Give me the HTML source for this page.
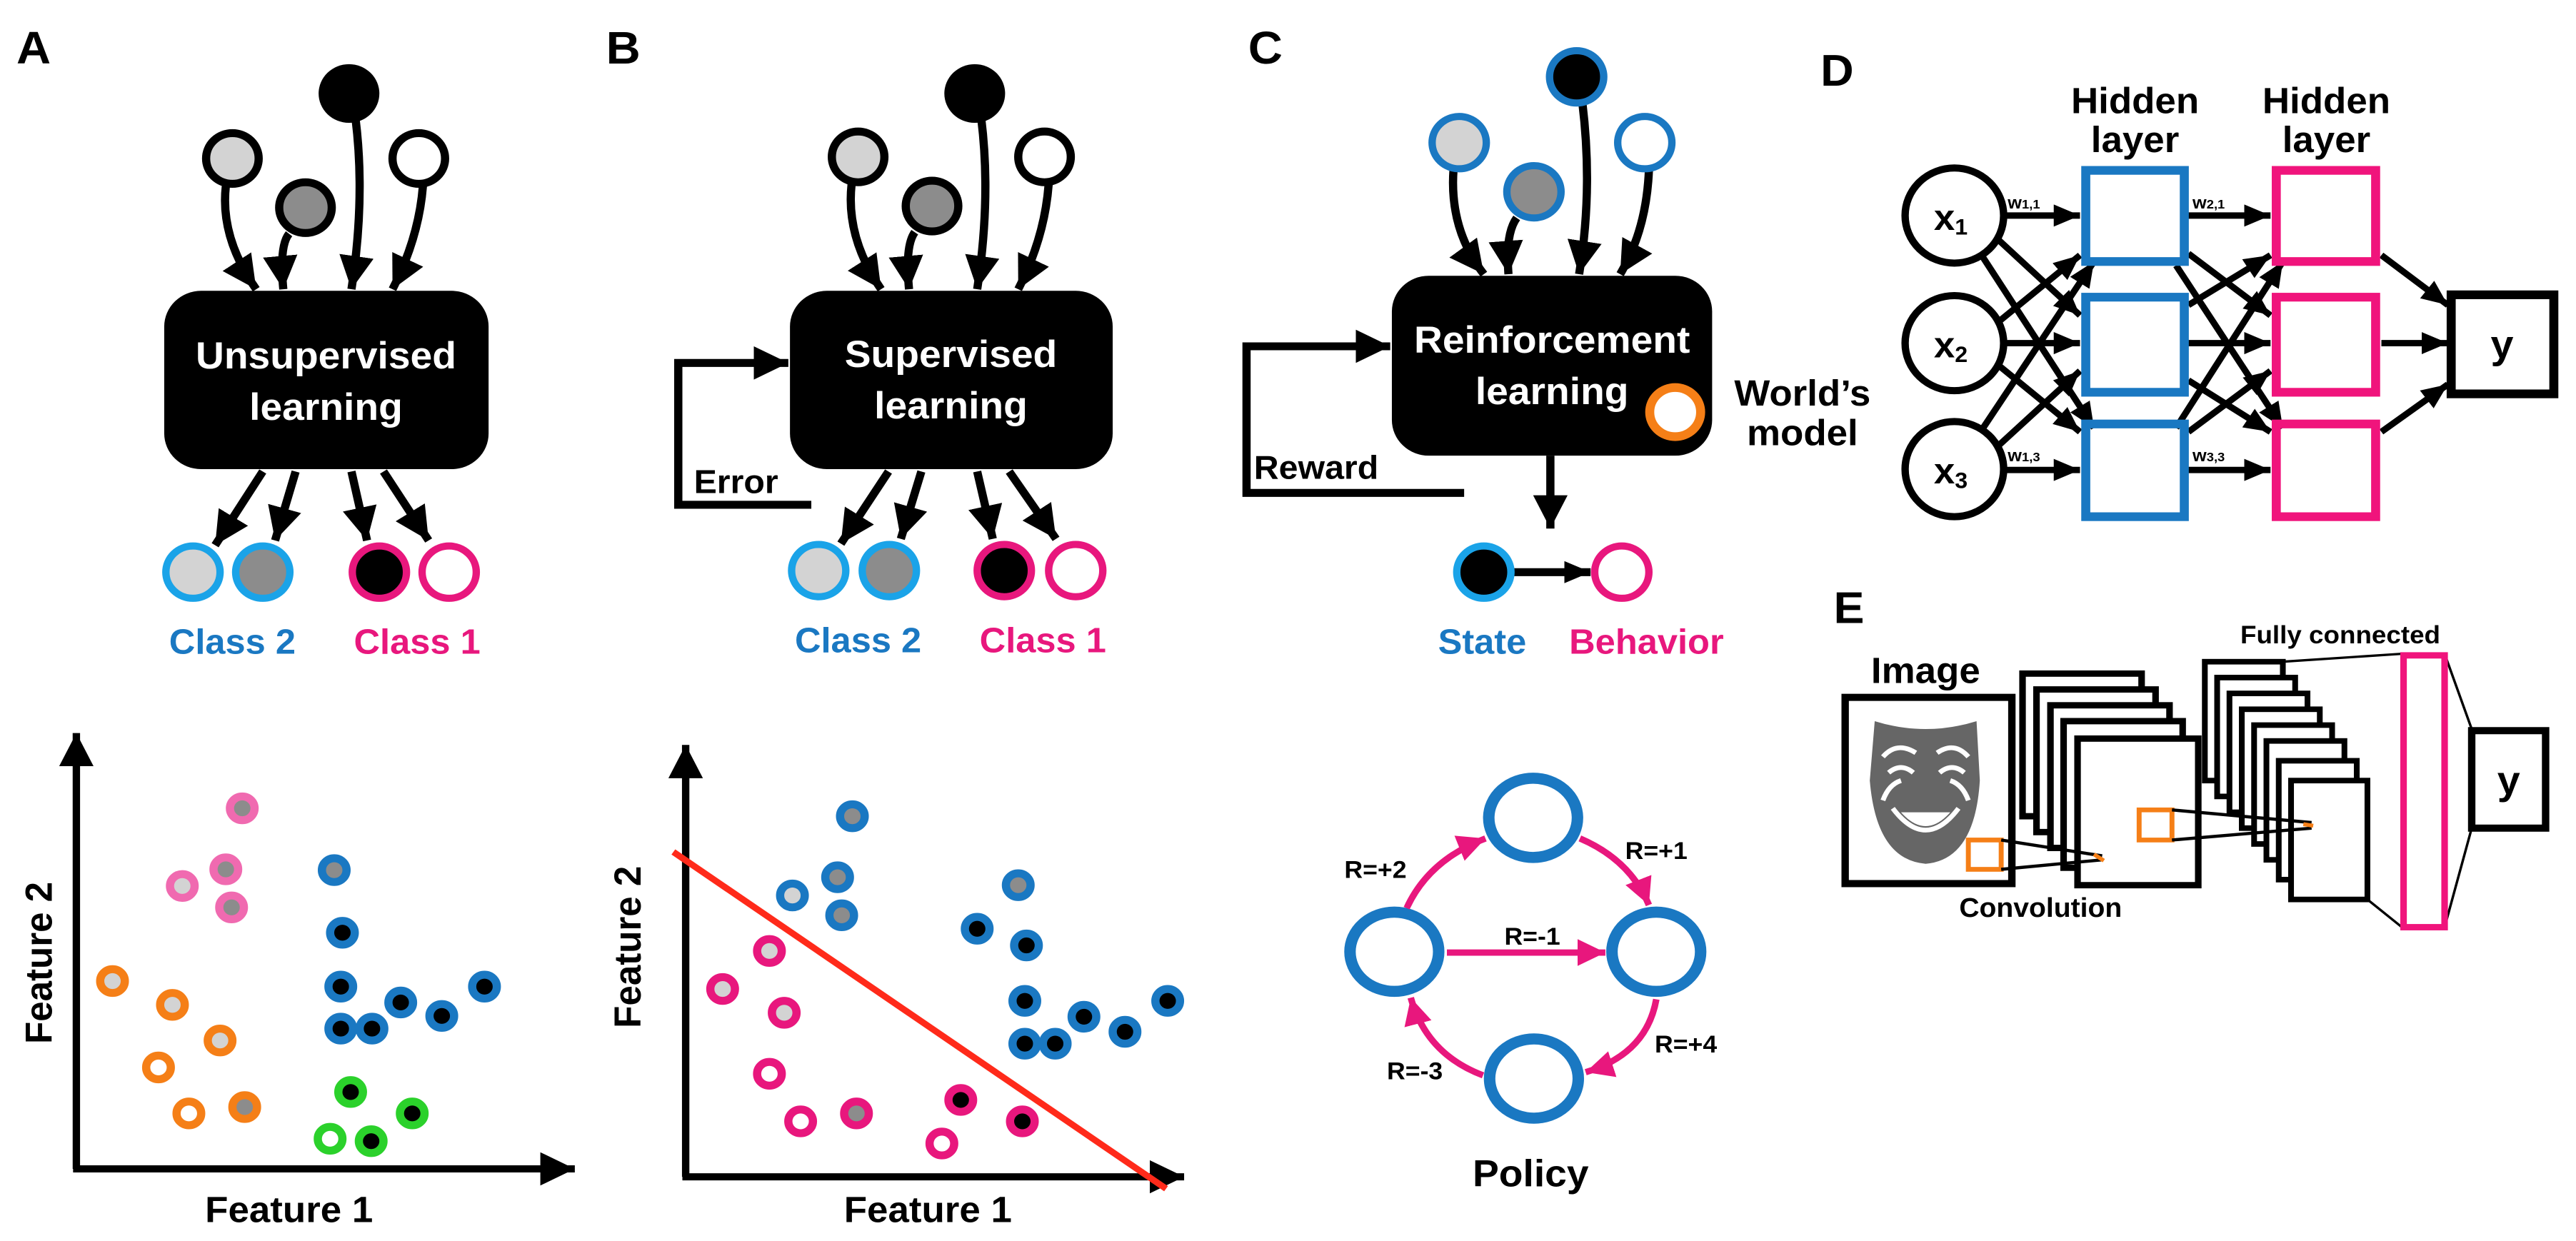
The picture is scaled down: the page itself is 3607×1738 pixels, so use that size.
<!DOCTYPE html>
<html><head><meta charset="utf-8"><style>
html,body{margin:0;padding:0;background:#fff;}
svg{display:block;}
text{font-family:"Liberation Sans",Arial,sans-serif;font-weight:bold;}
</style></head><body>
<svg width="3607" height="1738" viewBox="0 0 3137 1566" preserveAspectRatio="none" xmlns="http://www.w3.org/2000/svg">
<defs>
<marker id="ab" markerUnits="userSpaceOnUse" markerWidth="44" markerHeight="44" refX="42" refY="21" orient="auto"><path d="M0,0 L42,21 L0,42 z" fill="#000"/></marker>
<marker id="as" markerUnits="userSpaceOnUse" markerWidth="34" markerHeight="30" refX="32" refY="14" orient="auto"><path d="M0,0 L32,14 L0,28 z" fill="#000"/></marker>
<marker id="ap" markerUnits="userSpaceOnUse" markerWidth="36" markerHeight="36" refX="34" refY="17" orient="auto"><path d="M0,0 L34,17 L0,34 z" fill="#e8177d"/></marker>
</defs>

<!-- Panel A -->
<text x="20" y="80" font-size="58">A</text>
<g stroke="#000" stroke-width="10" fill="none">
<path d="M275,235 Q268,300 312,365" marker-end="url(#ab)"/>
<path d="M352,295 Q340,310 345,365" marker-end="url(#ab)"/>
<path d="M433,150 Q445,250 428,365" marker-end="url(#ab)"/>
<path d="M515,235 Q510,300 478,365" marker-end="url(#ab)"/>
</g>
<circle cx="425" cy="118" r="37" fill="#000"/>
<circle cx="283" cy="200" r="32" fill="#d3d3d3" stroke="#000" stroke-width="10"/>
<circle cx="372" cy="262" r="32" fill="#8c8c8c" stroke="#000" stroke-width="10"/>
<circle cx="510" cy="200" r="32" fill="#fff" stroke="#000" stroke-width="10"/>
<rect x="200" y="367" width="395" height="225" rx="45" fill="#000"/>
<text x="397" y="465" font-size="48" fill="#fff" text-anchor="middle">Unsupervised</text>
<text x="397" y="530" font-size="48" fill="#fff" text-anchor="middle">learning</text>
<g stroke="#000" stroke-width="10">
<line x1="320" y1="595" x2="262" y2="688" marker-end="url(#ab)"/>
<line x1="360" y1="595" x2="335" y2="682" marker-end="url(#ab)"/>
<line x1="428" y1="595" x2="447" y2="682" marker-end="url(#ab)"/>
<line x1="467" y1="595" x2="522" y2="682" marker-end="url(#ab)"/>
</g>
<g stroke-width="9">
<circle cx="235" cy="722" r="33" fill="#d3d3d3" stroke="#1aa3e8"/>
<circle cx="320" cy="722" r="33" fill="#8c8c8c" stroke="#1aa3e8"/>
<circle cx="462" cy="722" r="33" fill="#000" stroke="#e8177d"/>
<circle cx="547" cy="722" r="33" fill="#fff" stroke="#e8177d"/>
</g>
<text x="283" y="825" font-size="44" fill="#1a78c2" text-anchor="middle">Class 2</text>
<text x="508" y="825" font-size="44" fill="#e8177d" text-anchor="middle">Class 1</text>
<!-- plot A -->
<g stroke="#000" stroke-width="9" fill="none">
<line x1="93" y1="1475" x2="93" y2="925" marker-end="url(#ab)"/>
<line x1="89" y1="1475" x2="700" y2="1475" marker-end="url(#ab)"/>
</g>
<text transform="translate(63,1215) rotate(-90)" font-size="46" text-anchor="middle">Feature 2</text>
<text x="352" y="1542" font-size="46" text-anchor="middle">Feature 1</text>
<g stroke-width="10">
<g stroke="#f06ab0"><circle cx="295" cy="1020" r="15" fill="#8c8c8c"/><circle cx="275" cy="1097" r="15" fill="#8c8c8c"/><circle cx="222" cy="1118" r="15" fill="#d3d3d3"/><circle cx="282" cy="1145" r="15" fill="#8c8c8c"/></g>
<g stroke="#1a78c2"><circle cx="407" cy="1098" r="15" fill="#8c8c8c"/><circle cx="417" cy="1177" r="15" fill="#000"/><circle cx="415" cy="1245" r="15" fill="#000"/><circle cx="415" cy="1298" r="15" fill="#000"/><circle cx="453" cy="1298" r="15" fill="#000"/><circle cx="488" cy="1265" r="15" fill="#000"/><circle cx="538" cy="1282" r="15" fill="#000"/><circle cx="590" cy="1245" r="15" fill="#000"/></g>
<g stroke="#f57f17"><circle cx="137" cy="1238" r="15" fill="#d3d3d3"/><circle cx="210" cy="1268" r="15" fill="#d3d3d3"/><circle cx="268" cy="1313" r="15" fill="#d3d3d3"/><circle cx="193" cy="1347" r="15" fill="#fff"/><circle cx="230" cy="1405" r="15" fill="#fff"/><circle cx="298" cy="1397" r="15" fill="#8c8c8c"/></g>
<g stroke="#2bd12b"><circle cx="427" cy="1378" r="15" fill="#000"/><circle cx="502" cy="1405" r="15" fill="#000"/><circle cx="402" cy="1437" r="15" fill="#fff"/><circle cx="452" cy="1440" r="15" fill="#000"/></g>
</g>

<!-- Panel B -->
<text x="738" y="80" font-size="58">B</text>
<g stroke="#000" stroke-width="10" fill="none">
<path d="M1037,233 Q1030,300 1073,365" marker-end="url(#ab)"/>
<path d="M1114,293 Q1102,310 1107,365" marker-end="url(#ab)"/>
<path d="M1195,150 Q1207,250 1190,365" marker-end="url(#ab)"/>
<path d="M1277,233 Q1272,300 1240,365" marker-end="url(#ab)"/>
</g>
<circle cx="1187" cy="118" r="37" fill="#000"/>
<circle cx="1045" cy="198" r="32" fill="#d3d3d3" stroke="#000" stroke-width="10"/>
<circle cx="1135" cy="260" r="32" fill="#8c8c8c" stroke="#000" stroke-width="10"/>
<circle cx="1272" cy="198" r="32" fill="#fff" stroke="#000" stroke-width="10"/>
<rect x="962" y="367" width="393" height="225" rx="45" fill="#000"/>
<text x="1158" y="463" font-size="48" fill="#fff" text-anchor="middle">Supervised</text>
<text x="1158" y="528" font-size="48" fill="#fff" text-anchor="middle">learning</text>
<path d="M988,637 L826,637 L826,458 L960,458" stroke="#000" stroke-width="10" fill="none" marker-end="url(#ab)"/>
<text x="845" y="622" font-size="42">Error</text>
<g stroke="#000" stroke-width="10">
<line x1="1082" y1="595" x2="1024" y2="686" marker-end="url(#ab)"/>
<line x1="1122" y1="595" x2="1097" y2="680" marker-end="url(#ab)"/>
<line x1="1190" y1="595" x2="1209" y2="680" marker-end="url(#ab)"/>
<line x1="1229" y1="595" x2="1286" y2="680" marker-end="url(#ab)"/>
</g>
<g stroke-width="9">
<circle cx="997" cy="720" r="33" fill="#d3d3d3" stroke="#1aa3e8"/>
<circle cx="1083" cy="720" r="33" fill="#8c8c8c" stroke="#1aa3e8"/>
<circle cx="1223" cy="720" r="33" fill="#000" stroke="#e8177d"/>
<circle cx="1310" cy="720" r="33" fill="#fff" stroke="#e8177d"/>
</g>
<text x="1045" y="823" font-size="44" fill="#1a78c2" text-anchor="middle">Class 2</text>
<text x="1270" y="823" font-size="44" fill="#e8177d" text-anchor="middle">Class 1</text>
<g stroke="#000" stroke-width="9" fill="none">
<line x1="835" y1="1485" x2="835" y2="940" marker-end="url(#ab)"/>
<line x1="831" y1="1485" x2="1442" y2="1485" marker-end="url(#ab)"/>
</g>
<text transform="translate(780,1195) rotate(-90)" font-size="46" text-anchor="middle">Feature 2</text>
<text x="1130" y="1542" font-size="46" text-anchor="middle">Feature 1</text>
<g stroke-width="10">
<g stroke="#1a78c2"><circle cx="1038" cy="1030" r="15" fill="#8c8c8c"/><circle cx="1020" cy="1107" r="15" fill="#8c8c8c"/><circle cx="965" cy="1130" r="15" fill="#d3d3d3"/><circle cx="1025" cy="1155" r="15" fill="#8c8c8c"/><circle cx="1240" cy="1117" r="15" fill="#8c8c8c"/><circle cx="1190" cy="1172" r="15" fill="#000"/><circle cx="1250" cy="1193" r="15" fill="#000"/><circle cx="1248" cy="1263" r="15" fill="#000"/><circle cx="1320" cy="1283" r="15" fill="#000"/><circle cx="1370" cy="1302" r="15" fill="#000"/><circle cx="1422" cy="1263" r="15" fill="#000"/><circle cx="1248" cy="1317" r="15" fill="#000"/><circle cx="1285" cy="1317" r="15" fill="#000"/></g>
<g stroke="#e8177d"><circle cx="937" cy="1200" r="15" fill="#d3d3d3"/><circle cx="880" cy="1248" r="15" fill="#d3d3d3"/><circle cx="955" cy="1278" r="15" fill="#d3d3d3"/><circle cx="937" cy="1355" r="15" fill="#fff"/><circle cx="975" cy="1415" r="15" fill="#fff"/><circle cx="1043" cy="1405" r="15" fill="#8c8c8c"/><circle cx="1170" cy="1388" r="15" fill="#000"/><circle cx="1147" cy="1443" r="15" fill="#fff"/><circle cx="1245" cy="1415" r="15" fill="#000"/></g>
</g>
<line x1="820" y1="1075" x2="1420" y2="1500" stroke="#ff2a1a" stroke-width="8"/>

<!-- Right half -->
<g transform="translate(1565,0)">
<!-- Panel C -->
<text x="-45" y="80" font-size="58">C</text>
<g stroke="#000" stroke-width="10" fill="none">
<path d="M205,215 Q200,290 242,346" marker-end="url(#ab)"/>
<path d="M282,275 Q268,295 272,346" marker-end="url(#ab)"/>
<path d="M362,130 Q375,240 358,346" marker-end="url(#ab)"/>
<path d="M443,215 Q440,290 408,346" marker-end="url(#ab)"/>
</g>
<circle cx="355" cy="97" r="33" fill="#000" stroke="#1a78c2" stroke-width="9"/>
<circle cx="212" cy="180" r="33" fill="#d3d3d3" stroke="#1a78c2" stroke-width="9"/>
<circle cx="303" cy="242" r="33" fill="#8c8c8c" stroke="#1a78c2" stroke-width="9"/>
<circle cx="438" cy="180" r="33" fill="#fff" stroke="#1a78c2" stroke-width="9"/>
<rect x="130" y="348" width="390" height="227" rx="45" fill="#000"/>
<text x="325" y="445" font-size="48" fill="#fff" text-anchor="middle">Reinforcement</text>
<text x="325" y="510" font-size="48" fill="#fff" text-anchor="middle">learning</text>
<circle cx="475" cy="520" r="31" fill="#fff" stroke="#f57f17" stroke-width="11"/>
<text x="630" y="512" font-size="46" text-anchor="middle">World’s</text>
<text x="630" y="562" font-size="46" text-anchor="middle">model</text>
<path d="M218,622 L-47,622 L-47,437 L128,437" stroke="#000" stroke-width="10" fill="none" marker-end="url(#ab)"/>
<text x="-38" y="604" font-size="42">Reward</text>
<line x1="323" y1="575" x2="323" y2="667" stroke="#000" stroke-width="10" marker-end="url(#ab)"/>
<line x1="278" y1="722" x2="372" y2="722" stroke="#000" stroke-width="10" marker-end="url(#as)"/>
<circle cx="242" cy="722" r="33" fill="#000" stroke="#1aa3e8" stroke-width="9"/>
<circle cx="410" cy="722" r="33" fill="#fff" stroke="#e8177d" stroke-width="9"/>
<text x="240" y="825" font-size="44" fill="#1a78c2" text-anchor="middle">State</text>
<text x="440" y="825" font-size="44" fill="#e8177d" text-anchor="middle">Behavior</text>
<!-- policy -->
<g stroke="#1a78c2" stroke-width="14" fill="none">
<ellipse cx="302" cy="1032" rx="54" ry="50"/>
<ellipse cx="133" cy="1201" rx="54" ry="50"/>
<ellipse cx="452" cy="1201" rx="54" ry="50"/>
<ellipse cx="303" cy="1361" rx="54" ry="50"/>
</g>
<g stroke="#e8177d" stroke-width="8" fill="none">
<path d="M148,1146 Q175,1085 244,1058" marker-end="url(#ap)"/>
<path d="M359,1058 Q420,1085 443,1142" marker-end="url(#ap)"/>
<line x1="197" y1="1202" x2="390" y2="1202" marker-end="url(#ap)"/>
<path d="M452,1261 Q440,1330 366,1353" marker-end="url(#ap)"/>
<path d="M241,1357 Q172,1330 153,1259" marker-end="url(#ap)"/>
</g>
<g font-size="31">
<text x="110" y="1108" text-anchor="middle">R=+2</text>
<text x="452" y="1084" text-anchor="middle">R=+1</text>
<text x="301" y="1192" text-anchor="middle">R=-1</text>
<text x="488" y="1328" text-anchor="middle">R=+4</text>
<text x="158" y="1362" text-anchor="middle">R=-3</text>
</g>
<text x="299" y="1497" font-size="48" text-anchor="middle">Policy</text>

<!-- Panel D -->
<text x="652" y="108" font-size="56">D</text>
<text x="1035" y="143" font-size="46" text-anchor="middle">Hidden</text>
<text x="1035" y="192" font-size="46" text-anchor="middle">layer</text>
<text x="1268" y="143" font-size="46" text-anchor="middle">Hidden</text>
<text x="1268" y="192" font-size="46" text-anchor="middle">layer</text>
<g stroke="#000" stroke-width="8" fill="none">
<line x1="878" y1="272" x2="968" y2="272" marker-end="url(#as)"/>
<line x1="868" y1="302" x2="968" y2="398" marker-end="url(#as)"/>
<line x1="850" y1="325" x2="985" y2="540" marker-end="url(#as)"/>
<line x1="870" y1="405" x2="968" y2="322" marker-end="url(#as)"/>
<line x1="878" y1="433" x2="968" y2="433" marker-end="url(#as)"/>
<line x1="870" y1="462" x2="968" y2="545" marker-end="url(#as)"/>
<line x1="850" y1="540" x2="985" y2="330" marker-end="url(#as)"/>
<line x1="868" y1="563" x2="968" y2="468" marker-end="url(#as)"/>
<line x1="878" y1="593" x2="968" y2="593" marker-end="url(#as)"/>
<line x1="1100" y1="272" x2="1200" y2="272" marker-end="url(#as)"/>
<line x1="1100" y1="320" x2="1200" y2="398" marker-end="url(#as)"/>
<line x1="1085" y1="335" x2="1215" y2="540" marker-end="url(#as)"/>
<line x1="1100" y1="385" x2="1200" y2="322" marker-end="url(#as)"/>
<line x1="1100" y1="433" x2="1200" y2="433" marker-end="url(#as)"/>
<line x1="1100" y1="480" x2="1200" y2="545" marker-end="url(#as)"/>
<line x1="1085" y1="540" x2="1215" y2="330" marker-end="url(#as)"/>
<line x1="1100" y1="545" x2="1200" y2="468" marker-end="url(#as)"/>
<line x1="1100" y1="593" x2="1200" y2="593" marker-end="url(#as)"/>
<line x1="1335" y1="322" x2="1416" y2="385" marker-end="url(#as)"/>
<line x1="1335" y1="433" x2="1416" y2="433" marker-end="url(#as)"/>
<line x1="1335" y1="545" x2="1416" y2="485" marker-end="url(#as)"/>
</g>
<g stroke="#000" stroke-width="9" fill="#fff">
<circle cx="815" cy="272" r="60"/><circle cx="815" cy="433" r="60"/><circle cx="815" cy="592" r="60"/>
</g>
<g font-size="46" font-weight="normal">
<text x="790" y="290">x<tspan font-size="28" dy="6">1</tspan></text>
<text x="790" y="451">x<tspan font-size="28" dy="6">2</tspan></text>
<text x="790" y="610">x<tspan font-size="28" dy="6">3</tspan></text>
</g>
<g font-size="22">
<text x="880" y="263">w<tspan font-size="16">1,1</tspan></text>
<text x="1105" y="263">w<tspan font-size="16">2,1</tspan></text>
<text x="880" y="582">w<tspan font-size="16">1,3</tspan></text>
<text x="1105" y="582">w<tspan font-size="16">3,3</tspan></text>
</g>
<g fill="none" stroke-width="11">
<g stroke="#1a78c2"><rect x="975" y="215" width="120" height="115"/><rect x="975" y="375" width="120" height="120"/><rect x="975" y="535" width="120" height="117"/></g>
<g stroke="#f0147c"><rect x="1207" y="215" width="121" height="115"/><rect x="1207" y="375" width="121" height="120"/><rect x="1207" y="535" width="121" height="117"/></g>
<rect x="1420" y="372" width="125" height="125" stroke="#000"/>
</g>
<text x="1482" y="452" font-size="50" font-weight="normal" text-anchor="middle">y</text>

<!-- Panel E -->
<text x="668" y="786" font-size="56">E</text>
<text x="780" y="862" font-size="46" text-anchor="middle">Image</text>
<rect x="682" y="880" width="203" height="235" fill="#fff" stroke="#000" stroke-width="9"/>
<path d="M718,910 Q780,930 842,910 L846,985 Q840,1085 780,1090 Q720,1085 712,985 Z" fill="#666"/>
<g stroke="#fff" stroke-width="6" fill="none">
<path d="M728,955 Q745,935 768,950"/><path d="M794,950 Q815,935 832,955"/>
<path d="M735,975 Q750,962 765,975"/><path d="M797,975 Q812,962 827,975"/>
<path d="M740,1020 Q780,1075 820,1020"/>
<path d="M728,1010 Q735,990 750,985"/><path d="M832,1010 Q825,990 810,985"/>
</g>
<path d="M750,1025 Q780,1060 810,1025 Z" fill="#fff"/>
<g fill="#fff" stroke="#000" stroke-width="8">
<rect x="898" y="850" width="145" height="180"/>
<rect x="915" y="870" width="145" height="180"/>
<rect x="932" y="890" width="145" height="180"/>
<rect x="948" y="910" width="145" height="185"/>
<rect x="965" y="932" width="147" height="185"/>
</g>
<rect x="832" y="1060" width="40" height="37" fill="none" stroke="#f57f17" stroke-width="6"/>
<line x1="872" y1="1060" x2="995" y2="1080" stroke="#000" stroke-width="4"/>
<line x1="872" y1="1097" x2="995" y2="1085" stroke="#000" stroke-width="4"/>
<line x1="985" y1="1078" x2="997" y2="1086" stroke="#f57f17" stroke-width="5"/>
<text x="920" y="1157" font-size="34" text-anchor="middle">Convolution</text>
<g fill="#fff" stroke="#000" stroke-width="7">
<rect x="1120" y="835" width="95" height="150"/>
<rect x="1135" y="855" width="95" height="150"/>
<rect x="1150" y="875" width="95" height="150"/>
<rect x="1165" y="895" width="95" height="150"/>
<rect x="1180" y="915" width="95" height="150"/>
<rect x="1195" y="935" width="95" height="150"/>
<rect x="1210" y="960" width="95" height="150"/>
<rect x="1225" y="985" width="93" height="150"/>
</g>
<rect x="1040" y="1022" width="40" height="38" fill="none" stroke="#f57f17" stroke-width="6"/>
<line x1="1080" y1="1022" x2="1250" y2="1038" stroke="#000" stroke-width="4"/>
<line x1="1080" y1="1060" x2="1250" y2="1045" stroke="#000" stroke-width="4"/>
<line x1="1240" y1="1040" x2="1252" y2="1042" stroke="#f57f17" stroke-width="5"/>
<text x="1285" y="812" font-size="32" text-anchor="middle">Fully connected</text>
<g stroke="#000" stroke-width="3">
<line x1="1215" y1="835" x2="1360" y2="825"/>
<line x1="1318" y1="1135" x2="1360" y2="1170"/>
<line x1="1412" y1="825" x2="1445" y2="920"/>
<line x1="1412" y1="1170" x2="1445" y2="1045"/>
</g>
<rect x="1362" y="827" width="50" height="343" fill="#fff" stroke="#f0147c" stroke-width="8"/>
<rect x="1445" y="922" width="90" height="123" fill="#fff" stroke="#000" stroke-width="9"/>
<text x="1490" y="1002" font-size="50" font-weight="normal" text-anchor="middle">y</text>
</g>
</svg>
</body></html>
